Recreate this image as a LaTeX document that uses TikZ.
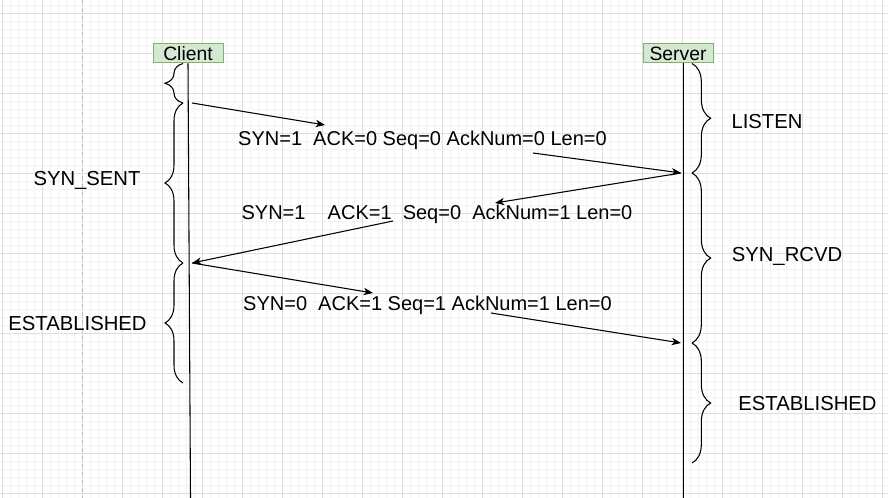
\documentclass[tikz,border=0pt]{standalone}
\usepackage{fontspec}
\setmainfont{Liberation Sans}
\usetikzlibrary{arrows.meta,decorations.pathreplacing}
\definecolor{gridmajor}{HTML}{DEDEDE}
\definecolor{gridminor}{HTML}{F4F4F4}
\definecolor{pagegray}{HTML}{B8B8B8}
\definecolor{boxfill}{HTML}{D5E8D4}
\definecolor{boxline}{HTML}{82B366}
\tikzset{
  actor/.style={draw=boxline, fill=boxfill, line width=0.75pt, minimum width=52.5pt, minimum height=14.25pt, inner sep=0pt, font=\fontsize{14.5}{14.5}\selectfont},
  msg/.style={-{Stealth[length=7pt,width=5.5pt,inset=2pt]}, line width=0.8pt},
  msgtext/.style={anchor=base, inner sep=0pt, font=\fontsize{15}{15}\selectfont},
  state/.style={anchor=base, inner sep=0pt, font=\fontsize{15.2}{15.2}\selectfont},
  leftbrace/.style={decorate, decoration={brace, amplitude=13.5pt}, line width=0.8pt},
  rightbrace/.style={decorate, decoration={brace, amplitude=14pt}, line width=0.8pt},
}
\begin{document}
\begin{tikzpicture}[x=0.75pt,y=-0.75pt]
			\useasboundingbox (0,0) rectangle (888,498);
			\fill[white] (0,0) rectangle (888,498);
			% Draw grid
			\foreach \i in {0,...,110} \draw[gridminor, line width=0.6pt] ({2.7+8*\i},0) -- ({2.7+8*\i},498);
			\foreach \i in {0,...,61} \draw[gridminor, line width=0.6pt] (0,{5.3+8*\i}) -- (888,{5.3+8*\i});
			\foreach \i in {0,...,22} \draw[gridmajor, line width=0.75pt] ({2.7+40*\i},0) -- ({2.7+40*\i},498);
			\foreach \i in {0,...,12} \draw[gridmajor, line width=0.75pt] (0,{13.3+40*\i}) -- (888,{13.3+40*\i});
			% Draw page border
			\draw[pagegray, dashed, line width=0.75pt] (82.7,0) -- (82.7,498);

			% Draw actors and lifelines
			\node[actor] (client) at (188,53.5) {Client};
			\node[actor] (server) at (678,53.5) {Server};
			\coordinate (cend) at (190.5,498);
			\coordinate (send) at (683,498);
			\draw[line width=0.8pt] (client.south) -- (cend);
			\draw[line width=0.75pt] (server.south -| send) -- (send);

			% Draw braces on client side
			\draw[leftbrace] (183,103) -- (183,63.5);
			\draw[leftbrace] (183,263) -- (183,103);
			\draw[leftbrace] (183,383) -- (183,263);
			% Draw braces on server side
			\draw[rightbrace] (692,63.5) -- (692,173);
			\draw[rightbrace] (692,173) -- (692,343);
			\draw[rightbrace] (692,343) -- (692,463);

			% Draw states
			\node[state] (synsent) at (87,186) {SYN\_SENT};
			\node[state] (estc) at (77.5,331) {ESTABLISHED};
			\node[state] (listen) at (767,128.3) {LISTEN};
			\node[state] (synrcvd) at (787,261.5) {SYN\_RCVD};
			\node[state] (ests) at (807.5,410.7) {ESTABLISHED};

			% Draw messages
			\coordinate (c1) at (192,103);
			\coordinate (m1a) at (325,125);
			\coordinate (m1b) at (533,153);
			\coordinate (s1) at (681,173);
			\coordinate (m2a) at (495,203);
			\coordinate (m2b) at (393,221);
			\coordinate (c2) at (192,263);
			\coordinate (m3a) at (373,293);
			\coordinate (m3b) at (491,313);
			\coordinate (s2) at (681,343);
			\draw[msg] (c1) -- (m1a);
			\draw[msg] (m1b) -- (s1);
			\draw[msg] (s1) -- (m2a);
			\draw[msg] (m2b) -- (c2);
			\draw[msg] (c2) -- (m3a);
			\draw[msg] (m3b) -- (s2);
			\node[msgtext] (syn) at (422.5,145.7) {SYN=1~~ACK=0 Seq=0 AckNum=0 Len=0};
			\node[msgtext] (synack) at (437,219.7) {SYN=1~~~~ACK=1~~Seq=0~~AckNum=1 Len=0};
			\node[msgtext] (ack) at (427.5,310.7) {SYN=0~~ACK=1 Seq=1 AckNum=1 Len=0};
		\end{tikzpicture}
\end{document}
